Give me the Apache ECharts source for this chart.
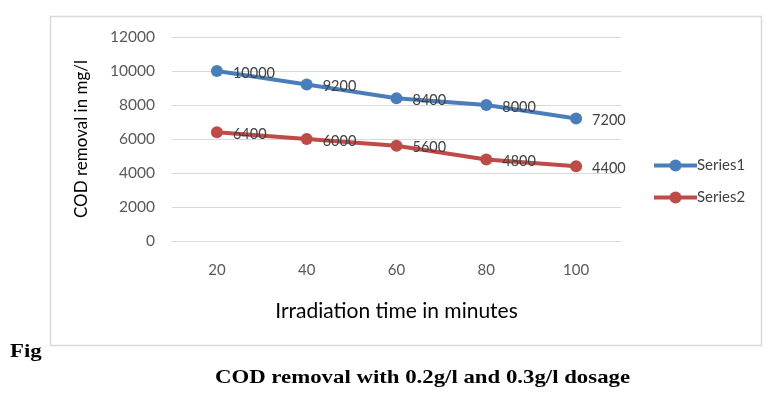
<!DOCTYPE html>
<html><head><meta charset="utf-8">
<script src="https://cdn.jsdelivr.net/npm/echarts@6/dist/echarts.min.js"></script>
<style>html,body{margin:0;padding:0;background:#fff}#c{width:773px;height:398px}</style>
</head><body><div id="c"></div>
<script>
const categories = ['20', '40', '60', '80', '100'];
const series1 = [10000, 9200, 8400, 8000, 7200];
const series2 = [6400, 6000, 5600, 4800, 4400];
const seriesNames = ['Series1', 'Series2'];
const xTitle = 'Irradiation time in minutes';
const yTitle = 'COD removal in mg/l';
const caption = 'COD removal with 0.2g/l and 0.3g/l dosage';

const font = 'Lato, "Open Sans", sans-serif';
const chart = echarts.init(document.getElementById('c'));
function lineSeries(name, data, color) {
  return {
    name, type: 'line', data,
    symbol: 'circle', symbolSize: 12,
    lineStyle: { width: 4, color },
    itemStyle: { color },
    label: { show: true, position: 'right', distance: 10, color: '#404040', fontSize: 14.5, fontFamily: font, offset: [0, 2] },
    emphasis: { disabled: true }
  };
}
chart.setOption({
  animation: false,
  graphic: [
    { type: 'rect', shape: { x: 50.5, y: 16.5, width: 711, height: 329 }, style: { fill: 'none', stroke: '#d9d9d9', lineWidth: 1.5 }, z: -1 },
    { type: 'text', x: 10, y: 343, scaleX: 1.2, style: { text: 'Fig', fontFamily: '"Liberation Serif", serif', fontWeight: 'bold', fontSize: 19, fill: '#000' } },
    { type: 'text', x: 215, y: 369, scaleX: 1.2, style: { text: caption, fontFamily: '"Liberation Serif", serif', fontWeight: 'bold', fontSize: 19, fill: '#000' } }
  ],
  grid: { left: 172, right: 152, top: 37, bottom: 157, containLabel: false },
  legend: {
    orient: 'vertical', left: 647, top: 153, itemGap: 17,
    itemWidth: 43, itemHeight: 15,
    lineStyle: { width: 4 },
    textStyle: { color: '#404040', fontSize: 15, fontFamily: font, padding: [0, 0, 0, -5] },
    data: seriesNames
  },
  xAxis: {
    type: 'category', data: categories, boundaryGap: true,
    axisLine: { show: true, lineStyle: { color: '#d9d9d9' } },
    axisTick: { show: false },
    axisLabel: { color: '#595959', fontSize: 15, fontFamily: font, margin: 22 },
    name: xTitle, nameLocation: 'middle', nameGap: 60,
    nameTextStyle: { color: '#000', fontSize: 21, fontFamily: font }
  },
  yAxis: {
    type: 'value', min: 0, max: 12000, interval: 2000,
    axisLine: { show: false }, axisTick: { show: false },
    splitLine: { lineStyle: { color: '#d9d9d9' } },
    axisLabel: { color: '#595959', fontSize: 15.5, fontFamily: font, margin: 17, formatter: v => String(v) },
    name: yTitle, nameLocation: 'middle', nameGap: 82, nameRotate: 90,
    nameTextStyle: { color: '#000', fontSize: 17, fontFamily: font }
  },
  series: [
    lineSeries(seriesNames[0], series1, '#4a7ebb'),
    lineSeries(seriesNames[1], series2, '#be4b48')
  ]
});
</script></body></html>
